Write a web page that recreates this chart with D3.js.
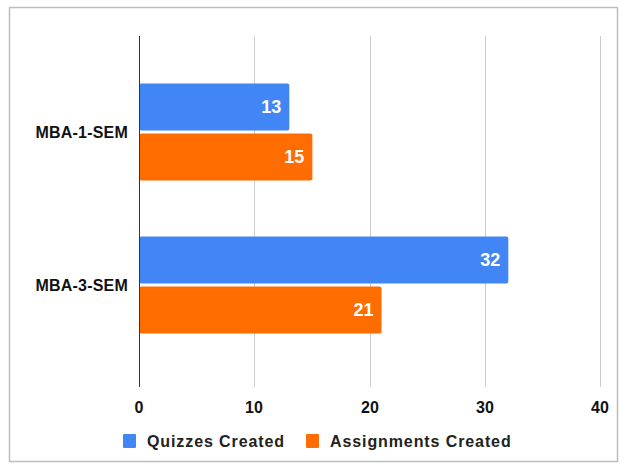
<!DOCTYPE html>
<html>
<head>
<meta charset="utf-8">
<script src="https://cdn.jsdelivr.net/npm/d3@7"></script>
<style>
  body { margin: 0; background: #fff; }
  text { font-family: "Liberation Sans", Arial, sans-serif; font-weight: bold; }
</style>
</head>
<body>
<div id="chart"></div>
<script>
// chart data
var categories = ["MBA-1-SEM", "MBA-3-SEM"];
var seriesNames = ["Quizzes Created", "Assignments Created"];
var quizzes = [13, 32];
var assignments = [15, 21];
var xTicks = [0, 10, 20, 30, 40];
var colors = ["#4285F4", "#FF6D01"];

var width = 626, height = 470;

var svg = d3.select("#chart").append("svg")
    .attr("width", width)
    .attr("height", height);

// outer border
svg.append("rect")
    .attr("x", 9.5)
    .attr("y", 7.5)
    .attr("width", 608)
    .attr("height", 454)
    .attr("fill", "#fff")
    .attr("stroke", "#bdbdbd")
    .attr("stroke-width", 1.5);

var plotTop = 36, plotBottom = 387;

var x = d3.scaleLinear().domain([0, 40]).range([139.5, 600.5]);

var y0 = d3.scaleBand().domain(categories).range([55.5, 361.5]).padding(0);
var y1 = d3.scaleBand().domain(seriesNames).range([28, 125]).paddingInner(0.06);

// gridlines
svg.append("g").selectAll("line")
    .data(xTicks.slice(1))
    .enter().append("line")
    .attr("x1", function(d) { return Math.floor(x(d)) + 0.5; })
    .attr("x2", function(d) { return Math.floor(x(d)) + 0.5; })
    .attr("y1", plotTop)
    .attr("y2", plotBottom)
    .attr("stroke", "#cccccc")
    .attr("stroke-width", 1);

// bars
var rows = categories.map(function(c, i) {
    return { cat: c, values: [quizzes[i], assignments[i]] };
});

var groups = svg.append("g").selectAll("g")
    .data(rows)
    .enter().append("g")
    .attr("transform", function(d) { return "translate(0," + y0(d.cat) + ")"; });

groups.selectAll("rect")
    .data(function(d) { return d.values.map(function(v, j) { return { name: seriesNames[j], v: v, j: j }; }); })
    .enter().append("rect")
    .attr("x", x(0))
    .attr("y", function(d) { return y1(d.name); })
    .attr("width", function(d) { return x(d.v) - x(0); })
    .attr("height", y1.bandwidth())
    .attr("rx", 2)
    .attr("fill", function(d) { return colors[d.j]; });

groups.selectAll("text.val")
    .data(function(d) { return d.values.map(function(v, j) { return { name: seriesNames[j], v: v }; }); })
    .enter().append("text")
    .attr("class", "val")
    .attr("x", function(d) { return x(d.v) - 8; })
    .attr("y", function(d) { return y1(d.name) + y1.bandwidth() / 2; })
    .attr("dy", "0.35em")
    .attr("text-anchor", "end")
    .attr("fill", "#fff")
    .style("font-size", "18px")
    .text(function(d) { return d.v; });

// zero axis line
svg.append("line")
    .attr("x1", Math.floor(x(0)) + 0.5)
    .attr("x2", Math.floor(x(0)) + 0.5)
    .attr("y1", plotTop)
    .attr("y2", plotBottom)
    .attr("stroke", "#333")
    .attr("stroke-width", 1);

// category labels
svg.append("g").selectAll("text")
    .data(categories)
    .enter().append("text")
    .attr("x", 128)
    .attr("y", function(d) { return y0(d) + y0.bandwidth() / 2; })
    .attr("dy", "0.35em")
    .attr("text-anchor", "end")
    .attr("fill", "#111")
    .style("font-size", "16px")
    .style("letter-spacing", "0.2px")
    .text(function(d) { return d; });

// x tick labels
svg.append("g").selectAll("text")
    .data(xTicks)
    .enter().append("text")
    .attr("x", function(d) { return Math.floor(x(d)); })
    .attr("y", 413)
    .attr("text-anchor", "middle")
    .attr("fill", "#111")
    .style("font-size", "16px")
    .text(function(d) { return d; });

// legend
var legendX = [123, 306];
var legend = svg.append("g").selectAll("g")
    .data(seriesNames)
    .enter().append("g")
    .attr("transform", function(d, i) { return "translate(" + legendX[i] + ",434)"; });

legend.append("rect")
    .attr("width", 13)
    .attr("height", 14)
    .attr("rx", 1)
    .attr("fill", function(d, i) { return colors[i]; });

legend.append("text")
    .attr("x", 24)
    .attr("y", 7)
    .attr("dy", "0.36em")
    .attr("fill", "#222")
    .style("font-size", "16px")
    .style("letter-spacing", "0.9px")
    .text(function(d) { return d; });
</script>
</body>
</html>
